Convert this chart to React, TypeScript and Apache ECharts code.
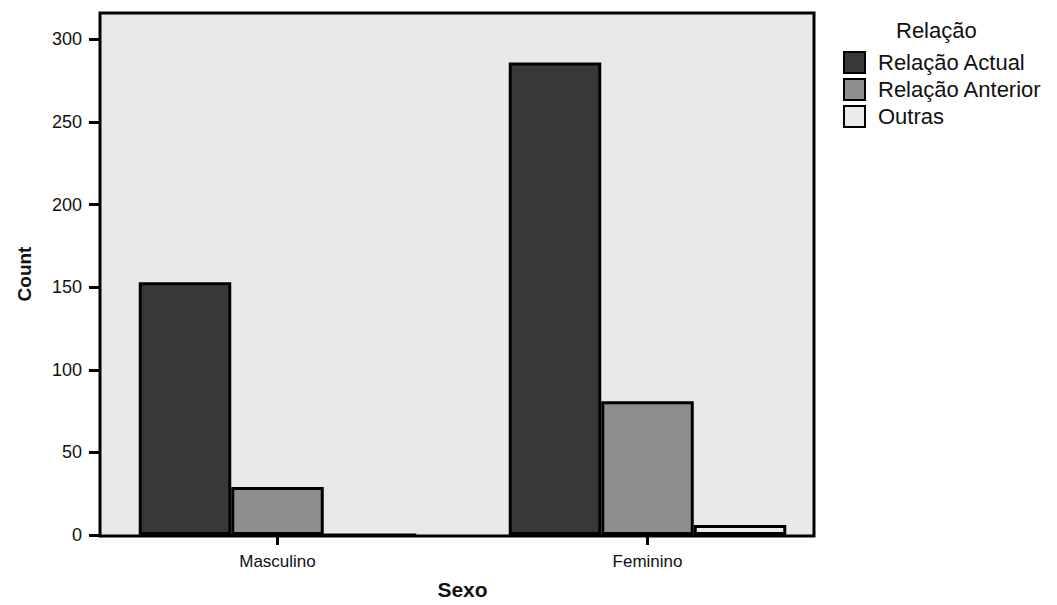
import React, { useEffect, useRef } from "react";
import * as echarts from "echarts";

const categories = ["Masculino", "Feminino"];
const seriesNames = ["Relação Actual", "Relação Anterior", "Outras"];
const relacaoActual = [153, 286];
const relacaoAnterior = [29, 81];
const outras = [0, 6];
const seriesColors = ["#383838", "#8e8e8e", "#ebebeb"];
const yTicks = [0, 50, 100, 150, 200, 250, 300];

const FONT = "'Liberation Sans', Arial, Helvetica, sans-serif";

export default function App() {
  const ref = useRef<HTMLDivElement>(null);
  useEffect(() => {
    if (!ref.current) return;
    const chart = echarts.init(ref.current, undefined, { renderer: "svg" });
    const values = [relacaoActual, relacaoAnterior, outras];
    chart.setOption({
      animation: false,
      backgroundColor: "#ffffff",
      textStyle: { fontFamily: FONT },
      title: {
        text: "Relação",
        left: 891,
        top: 14,
        textStyle: { fontFamily: FONT, fontSize: 22, fontWeight: "normal", color: "#111" },
      },
      legend: {
        orient: "vertical",
        left: 838,
        top: 46,
        itemWidth: 21,
        itemHeight: 21,
        itemGap: 4,
        icon: "rect",
        selectedMode: false,
        data: seriesNames,
        textStyle: { fontFamily: FONT, fontSize: 22, color: "#111", padding: [0, 0, 0, 8] },
      },
      graphic: {
        elements: [
          {
            type: "rect",
            z: -10,
            silent: true,
            shape: { x: 100, y: 13, width: 714, height: 523 },
            style: { fill: "#e9e9e9", stroke: "#000", lineWidth: 3 },
          },
        ],
      },
      grid: { left: 92.5, right: 224.5, top: 13, bottom: 69 },
      xAxis: {
        type: "category",
        data: categories,
        name: "Sexo",
        nameLocation: "middle",
        nameGap: 44,
        nameTextStyle: { fontFamily: FONT, fontSize: 21, fontWeight: "bold", color: "#111" },
        axisLine: { show: false },
        axisTick: { show: true, alignWithLabel: true, length: 10, lineStyle: { color: "#000", width: 3 } },
        axisLabel: { fontFamily: FONT, fontSize: 17, color: "#111", margin: 18 },
        splitLine: { show: false },
      },
      yAxis: {
        type: "value",
        min: 0,
        max: 316,
        interval: 50,
        offset: -7.5,
        name: "Count",
        nameLocation: "middle",
        nameRotate: 90,
        nameGap: 66,
        nameTextStyle: { fontFamily: FONT, fontSize: 19, fontWeight: "bold", color: "#111" },
        axisLine: { show: false },
        axisTick: { show: true, length: 11, lineStyle: { color: "#000", width: 3 } },
        axisLabel: {
          fontFamily: FONT,
          fontSize: 18,
          color: "#111",
          margin: 18,
          showMaxLabel: false,
          formatter: (v: number) => (yTicks.includes(v) ? String(v) : ""),
        },
        splitLine: { show: false },
      },
      series: seriesNames.map((name, i) => ({
        name,
        type: "bar",
        data: values[i],
        barGap: "0%",
        barCategoryGap: "25%",
        itemStyle: { color: seriesColors[i], borderColor: "#000", borderWidth: 3 },
      })),
    });
    return () => chart.dispose();
  }, []);
  return <div ref={ref} style={{ width: 1057, height: 605, position: "absolute", left: 0, top: 0 }} />;
}
